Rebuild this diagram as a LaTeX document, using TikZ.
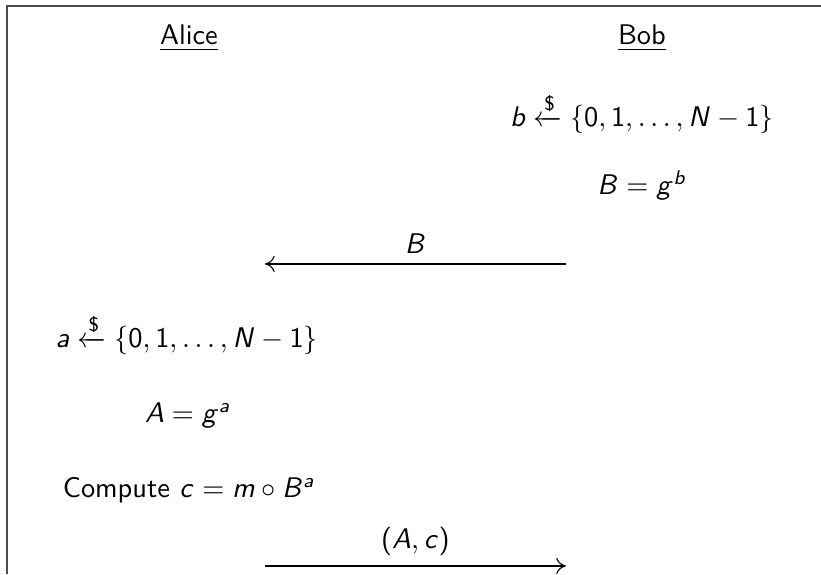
\documentclass[tikz,border=0pt]{standalone}
\usepackage{amsmath}
\usetikzlibrary{arrows.meta}
% sans math, slide style
\DeclareSymbolFont{sfletters}{OT1}{cmss}{m}{sl}
\SetSymbolFont{operators}{normal}{OT1}{cmss}{m}{n}
\DeclareMathSymbol{a}{\mathalpha}{sfletters}{`a}
\DeclareMathSymbol{b}{\mathalpha}{sfletters}{`b}
\DeclareMathSymbol{c}{\mathalpha}{sfletters}{`c}
\DeclareMathSymbol{g}{\mathalpha}{sfletters}{`g}
\DeclareMathSymbol{m}{\mathalpha}{sfletters}{`m}
\DeclareMathSymbol{A}{\mathalpha}{sfletters}{`A}
\DeclareMathSymbol{B}{\mathalpha}{sfletters}{`B}
\DeclareMathSymbol{N}{\mathalpha}{sfletters}{`N}
\tikzset{
  every node/.style={font=\sffamily, text=black},
  party/.style={anchor=base},
  work/.style={anchor=base},
  frame/.style={draw=black!70, line width=0.6pt},
  msg/.style={-{To[length=1.2mm,width=2mm]}, draw=black, line width=0.4pt},
}

\begin{document}
\begin{tikzpicture}[x=1cm,y=1cm]
  \useasboundingbox (0,-7.107) rectangle (10.165,0);
  % Frame, cut at the page edge
  \draw[frame] (0.087,-7.107) -- (0.087,-0.074) -- (10.165,-0.074);
  % Parties
  \node[party] (alice) at (2.340,-0.557) {\underline{Alice}};
  \node[party] (bob) at (7.948,-0.557) {\underline{Bob}};
  % Bob's side
  \node[work] (sampleb) at (7.948,-1.572) {$b \xleftarrow{\$} \{0,1,\ldots,N-1\}$};
  \node[work] (pubb) at (7.948,-2.414) {$B = g^b$};
  % First message
  \coordinate (bobout) at (7.007,-3.268);
  \coordinate (alicein) at (3.281,-3.268);
  \draw[msg] (bobout) -- node[above] (lblB) {$B$} (alicein);
  % Alice's side
  \node[work] (samplea) at (2.315,-4.308) {$a \xleftarrow{\$} \{0,1,\ldots,N-1\}$};
  \node[work] (puba) at (2.327,-5.237) {$A = g^a$};
  \node[work] (compute) at (2.340,-6.165) {Compute $c = m \circ B^a$};
  % Second message
  \coordinate (aliceout) at (3.281,-7.007);
  \coordinate (bobin) at (7.007,-7.007);
  \draw[msg] (aliceout) -- node[above] (lblAc) {$(A,c)$} (bobin);
\end{tikzpicture}
\end{document}
